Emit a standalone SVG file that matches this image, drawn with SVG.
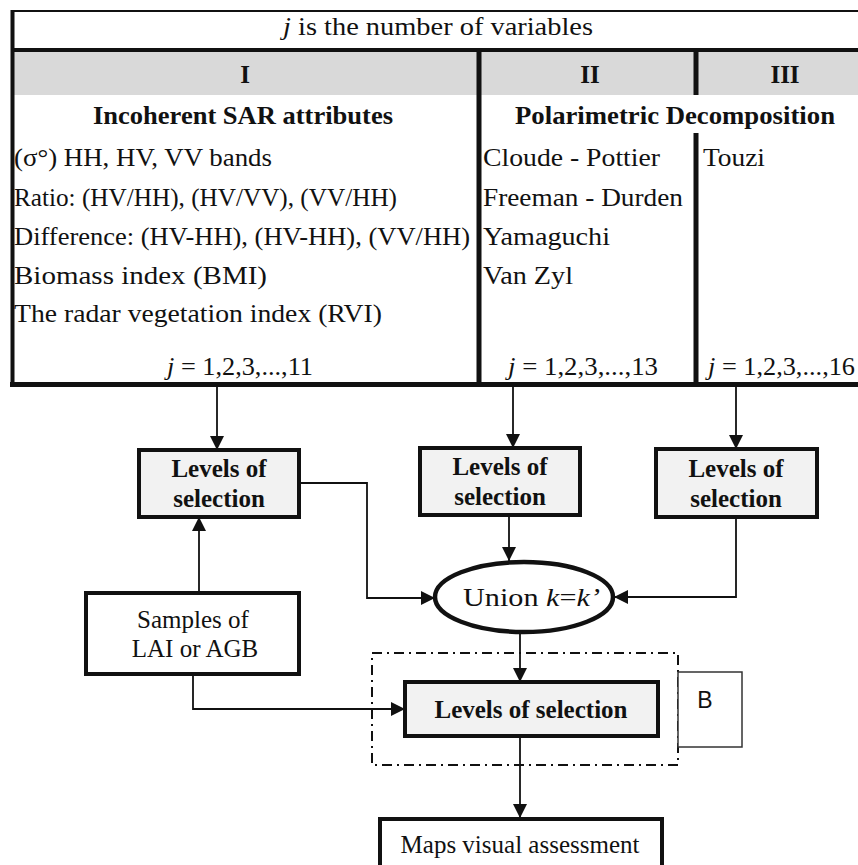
<svg xmlns="http://www.w3.org/2000/svg" width="858" height="865" viewBox="0 0 858 865">
<style>
  .t{font-family:"Liberation Serif","Times New Roman",serif;font-size:26px;fill:#111}
  .b{font-family:"Liberation Serif","Times New Roman",serif;font-size:25px;font-weight:bold;fill:#111}
  .r{font-family:"Liberation Serif","Times New Roman",serif;font-size:25px;fill:#111}
  .box{fill:#f2f2f2;stroke:#111;stroke-width:4}
  .wbox{fill:#fff;stroke:#111;stroke-width:4}
  .conn{fill:none;stroke:#111;stroke-width:1.8}
  .tl{stroke:#111;fill:none}
</style>
<defs>
  <marker id="ah" markerUnits="userSpaceOnUse" viewBox="0 0 14 14" markerWidth="14" markerHeight="14" refX="14" refY="7" orient="auto">
    <path d="M0,0 L14,7 L0,14 z" fill="#111"/>
  </marker>
</defs>
<rect width="858" height="865" fill="#fff"/>

<g id="table">
  <rect x="12" y="52" width="846" height="43" fill="#d9d9d9"/>
  <line class="tl" x1="12" y1="11" x2="858" y2="11" stroke-width="2"/>
  <line class="tl" x1="12" y1="50" x2="858" y2="50" stroke-width="4"/>
  <line class="tl" x1="12.5" y1="10" x2="12.5" y2="387" stroke-width="4"/>
  <line class="tl" x1="479" y1="50" x2="479" y2="387" stroke-width="5"/>
  <line class="tl" x1="696" y1="50" x2="696" y2="95" stroke-width="5"/>
  <line class="tl" x1="696" y1="133" x2="696" y2="387" stroke-width="5"/>
  <line class="tl" x1="10" y1="384.5" x2="858" y2="384.5" stroke-width="5"/>

  <text class="t" x="283" y="35" font-size="27" textLength="310" lengthAdjust="spacingAndGlyphs"><tspan font-style="italic">j</tspan> is the number of variables</text>
  <text class="b" x="245" y="83" text-anchor="middle">I</text>
  <text class="b" x="590" y="83" text-anchor="middle">II</text>
  <text class="b" x="785" y="83" text-anchor="middle">III</text>
  <text class="b" x="93" y="124" textLength="300" lengthAdjust="spacingAndGlyphs">Incoherent SAR attributes</text>
  <text class="b" x="515" y="124" textLength="320" lengthAdjust="spacingAndGlyphs">Polarimetric Decomposition</text>

  <text class="t" x="14" y="166" textLength="258" lengthAdjust="spacingAndGlyphs">(σ°) HH, HV, VV bands</text>
  <text class="t" x="14" y="206" textLength="383" lengthAdjust="spacingAndGlyphs">Ratio: (HV/HH), (HV/VV), (VV/HH)</text>
  <text class="t" x="14" y="245" textLength="456" lengthAdjust="spacingAndGlyphs">Difference: (HV-HH), (HV-HH), (VV/HH)</text>
  <text class="t" x="14" y="284" textLength="253" lengthAdjust="spacingAndGlyphs">Biomass index (BMI)</text>
  <text class="t" x="14" y="322" textLength="368" lengthAdjust="spacingAndGlyphs">The radar vegetation index (RVI)</text>
  <text class="t" x="167" y="375" textLength="146" lengthAdjust="spacingAndGlyphs"><tspan font-style="italic">j</tspan> = 1,2,3,...,11</text>

  <text class="t" x="483" y="166" textLength="177" lengthAdjust="spacingAndGlyphs">Cloude - Pottier</text>
  <text class="t" x="483" y="206" textLength="200" lengthAdjust="spacingAndGlyphs">Freeman - Durden</text>
  <text class="t" x="483" y="245" textLength="127" lengthAdjust="spacingAndGlyphs">Yamaguchi</text>
  <text class="t" x="483" y="284" textLength="90" lengthAdjust="spacingAndGlyphs">Van Zyl</text>
  <text class="t" x="508" y="375" textLength="150" lengthAdjust="spacingAndGlyphs"><tspan font-style="italic">j</tspan> = 1,2,3,...,13</text>

  <text class="t" x="703" y="166" textLength="62" lengthAdjust="spacingAndGlyphs">Touzi</text>
  <text class="t" x="708" y="375" textLength="147" lengthAdjust="spacingAndGlyphs"><tspan font-style="italic">j</tspan> = 1,2,3,...,16</text>
</g>

<g id="connectors">
  <line class="conn" x1="217" y1="387" x2="217" y2="450" marker-end="url(#ah)"/>
  <line class="conn" x1="513" y1="387" x2="513" y2="448" marker-end="url(#ah)"/>
  <line class="conn" x1="736" y1="387" x2="736" y2="449" marker-end="url(#ah)"/>
  <line class="conn" x1="199" y1="593" x2="199" y2="517" marker-end="url(#ah)"/>
  <polyline class="conn" points="299,483 367,483 367,598 435,598" marker-end="url(#ah)"/>
  <line class="conn" x1="509" y1="515" x2="509" y2="561" marker-end="url(#ah)"/>
  <polyline class="conn" points="736,517 736,597 614,597" marker-end="url(#ah)"/>
  <line class="conn" x1="520" y1="631" x2="520" y2="682" marker-end="url(#ah)"/>
  <polyline class="conn" points="193,674 193,709 405,709" marker-end="url(#ah)"/>
  <line class="conn" x1="520" y1="736" x2="520" y2="818" marker-end="url(#ah)"/>
</g>

<g id="levels1">
  <rect class="box" x="139" y="450" width="160" height="67"/>
  <text class="b" x="219" y="477" text-anchor="middle">Levels of</text>
  <text class="b" x="219" y="507" text-anchor="middle">selection</text>
</g>
<g id="levels2">
  <rect class="box" x="420" y="448" width="160" height="67"/>
  <text class="b" x="500" y="475" text-anchor="middle">Levels of</text>
  <text class="b" x="500" y="505" text-anchor="middle">selection</text>
</g>
<g id="levels3">
  <rect class="box" x="656" y="449" width="161" height="68"/>
  <text class="b" x="736" y="477" text-anchor="middle">Levels of</text>
  <text class="b" x="736" y="507" text-anchor="middle">selection</text>
</g>
<g id="samples">
  <rect class="wbox" x="86" y="593" width="213" height="81"/>
  <text class="r" x="193" y="628" text-anchor="middle">Samples of</text>
  <text class="r" x="195" y="657" text-anchor="middle">LAI or AGB</text>
</g>
<g id="union">
  <ellipse cx="524" cy="597" rx="89" ry="35" fill="#fff" stroke="#111" stroke-width="4.5"/>
  <text class="r" x="463" y="606" font-size="27" textLength="137" lengthAdjust="spacingAndGlyphs">Union <tspan font-style="italic">k</tspan>=<tspan font-style="italic">k’</tspan></text>
</g>
<g id="groupB">
  <rect x="372" y="653" width="306" height="112" fill="none" stroke="#111" stroke-width="2" stroke-dasharray="10,5,2,5"/>
  <rect x="678" y="672" width="64" height="75" fill="#fff" stroke="#333" stroke-width="1.5"/>
  <text x="705" y="708" text-anchor="middle" font-family="'Liberation Sans','Open Sans',sans-serif" font-size="23" fill="#111">B</text>
</g>
<g id="levels4">
  <rect class="box" x="405" y="682" width="253" height="54"/>
  <text class="b" x="531" y="718" text-anchor="middle">Levels of selection</text>
</g>
<g id="maps">
  <rect class="wbox" x="380" y="819" width="282" height="50"/>
  <text class="r" x="520" y="853" text-anchor="middle">Maps visual assessment</text>
</g>
</svg>
